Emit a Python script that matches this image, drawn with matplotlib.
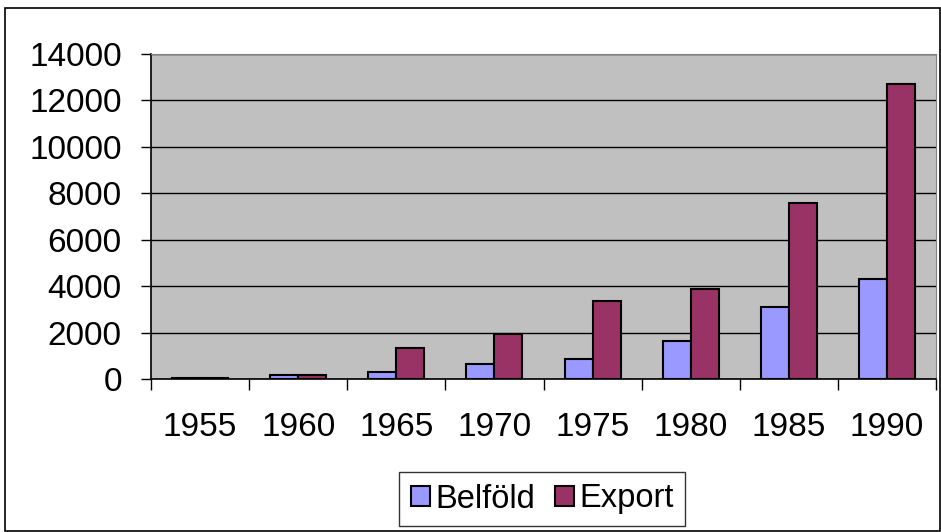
import matplotlib
matplotlib.use("Agg")
import matplotlib.pyplot as plt
import numpy as np
from matplotlib.patches import Rectangle

plt.rcParams['font.family'] = ['Liberation Sans', 'DejaVu Sans']

years = ["1955", "1960", "1965", "1970", "1975", "1980", "1985", "1990"]
belfold = [40, 160, 300, 630, 870, 1640, 3120, 4320]
export = [60, 160, 1320, 1950, 3360, 3880, 7600, 12700]

fig = plt.figure(figsize=(9.41, 5.32), dpi=100)
fig.patches.append(Rectangle((5/941, 1/532), 935/941, 523/532, transform=fig.transFigure,
                             fill=False, edgecolor='black', linewidth=1.2))
ax = fig.add_axes([151/941, 1 - 379/532, 785/941, 325/532])
ax.set_facecolor('#C0C0C0')

x = np.arange(len(years))
w = 0.285
ax.bar(x - w/2, belfold, w, color='#9999FF', edgecolor='black', linewidth=1.5, label='Belföld', zorder=3)
ax.bar(x + w/2, export, w, color='#993366', edgecolor='black', linewidth=1.5, label='Export', zorder=3)

ax.set_xlim(-0.5, len(years) - 0.5)
ax.set_ylim(0, 14000)
ax.set_yticks(range(0, 14001, 2000))
ax.yaxis.grid(True, color='black', linewidth=1, zorder=1)
ax.set_axisbelow(True)

ax.set_xticks(np.arange(-0.5, len(years), 1))
ax.set_xticklabels([])
ax.set_xticks(x, minor=True)
ax.set_xticklabels(years, minor=True)
ax.tick_params(axis='x', which='major', length=8, width=1, color='black', direction='out')
ax.tick_params(axis='x', which='minor', length=0, pad=24, labelsize=24)
ax.tick_params(axis='y', length=7, width=1, labelsize=24, pad=14)

for s in ['top', 'right']:
    ax.spines[s].set_color('#808080')
for s in ['left', 'bottom']:
    ax.spines[s].set_color('black')
    ax.spines[s].set_linewidth(1.2)

leg = fig.legend(loc='center', bbox_to_anchor=(542/941, 1 - 499/532), ncol=2, fontsize=23.5,
                 frameon=True, fancybox=False, edgecolor='black', handlelength=0.6,
                 handleheight=0.6, handletextpad=0.15, columnspacing=0.6, borderpad=0.35)
leg.get_frame().set_linewidth(1)

fig.savefig('out.png', dpi=100)
